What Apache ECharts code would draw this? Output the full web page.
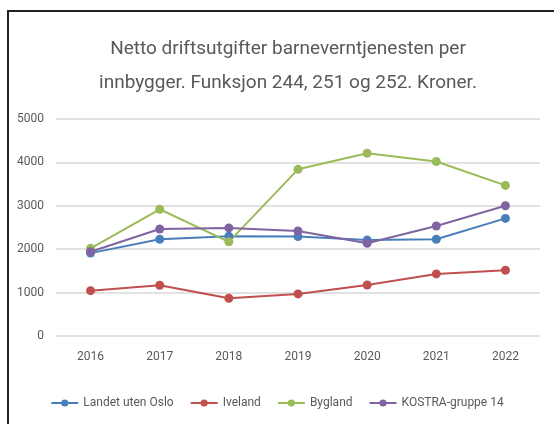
<!DOCTYPE html>
<html>
<head>
<meta charset="utf-8">
<script src="https://cdn.jsdelivr.net/npm/echarts@6/dist/echarts.min.js"></script>
<style>
  html, body { margin: 0; padding: 0; background: #fff; }
  #chart { width: 554px; height: 424px; }
</style>
</head>
<body>
<div id="chart"></div>
<script>
// årstall og verdier (kroner per innbygger)
const years = ['2016', '2017', '2018', '2019', '2020', '2021', '2022']
const landetUtenOslo = [1910, 2230, 2300, 2290, 2210, 2230, 2710]
const iveland = [1045, 1170, 870, 970, 1175, 1430, 1515]
const bygland = [2020, 2920, 2170, 3840, 4210, 4020, 3470]
const kostra14 = [1940, 2465, 2490, 2420, 2135, 2535, 3000]

const fontFamily = 'Roboto, sans-serif'
const textColor = '#595959'

function lineSeries(name, data, color) {
  return {
    name,
    type: 'line',
    data,
    symbol: 'circle',
    symbolSize: 9,
    lineStyle: { width: 2, color },
    itemStyle: { color },
  }
}

const chart = echarts.init(document.getElementById('chart'))
chart.setOption({
  animation: false,
  textStyle: { fontFamily, color: textColor },
  title: {
    text: 'Netto driftsutgifter barneverntjenesten per\ninnbygger. Funksjon 244, 251 og 252. Kroner.',
    left: 283,
    top: 27,
    textAlign: 'center',
    textStyle: {
      fontFamily,
      fontSize: 19,
      fontWeight: 'normal',
      color: textColor,
      lineHeight: 34,
    },
  },
  graphic: [{
    type: 'rect',
    shape: { x: 8, y: 11, width: 700, height: 600 },
    style: { fill: 'none', stroke: '#222', lineWidth: 2 },
    silent: true,
  }],
  legend: {
    top: 392,
    left: 'center',
    itemWidth: 27,
    itemHeight: 9,
    itemGap: 16,
    textStyle: { fontFamily, fontSize: 12, color: textColor },
  },
  grid: { left: 56, right: 14, top: 119, bottom: 88 },
  xAxis: {
    type: 'category',
    data: years,
    boundaryGap: true,
    axisLine: { show: false },
    axisTick: { show: false },
    axisLabel: { fontFamily, fontSize: 12, color: textColor, margin: 15 },
  },
  yAxis: {
    type: 'value',
    min: 0,
    max: 5000,
    interval: 1000,
    axisLabel: {
      fontFamily,
      fontSize: 12,
      color: textColor,
      margin: 12,
      formatter: (v) => String(v),
    },
    splitLine: { lineStyle: { color: '#d9d9d9', width: 1.5 } },
  },
  series: [
    lineSeries('Landet uten Oslo', landetUtenOslo, '#4a7ebb'),
    lineSeries('Iveland', iveland, '#c0504d'),
    lineSeries('Bygland', bygland, '#9bbb59'),
    lineSeries('KOSTRA-gruppe 14', kostra14, '#8064a2'),
  ],
})
</script>
</body>
</html>
